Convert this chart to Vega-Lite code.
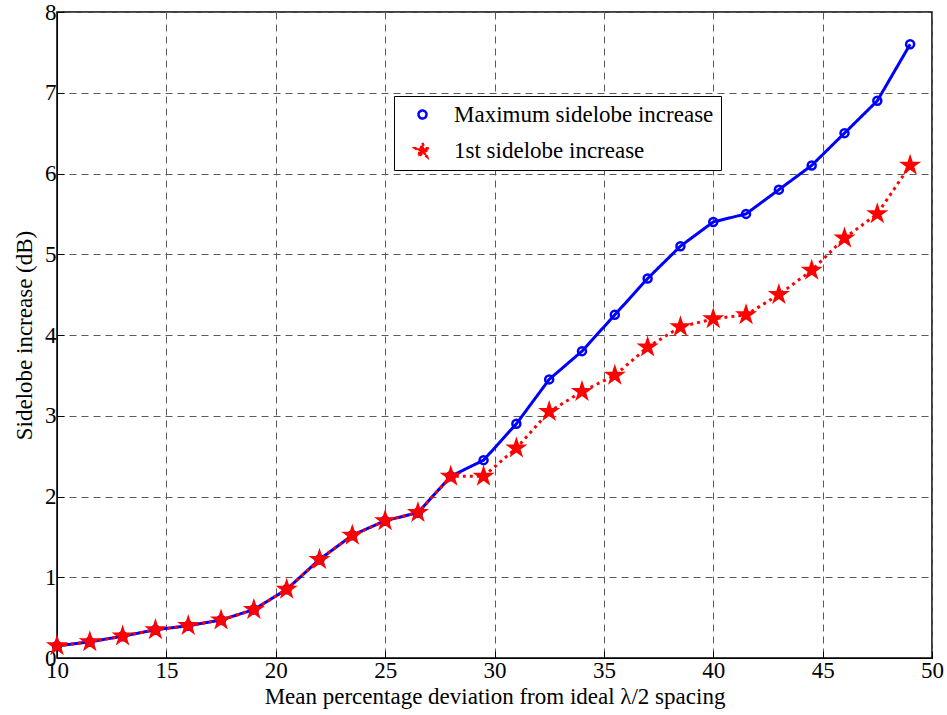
{
  "$schema": "https://vega.github.io/schema/vega-lite/v6.json",
  "width": 875,
  "height": 646,
  "autosize": "none",
  "padding": {"left": 57, "top": 12, "right": 15, "bottom": 57},
  "background": "white",
  "config": {
    "font": "Liberation Serif",
    "view": {"stroke": "black", "strokeWidth": 1.5},
    "axis": {"labelFont": "Liberation Serif", "labelFontSize": 23, "labelColor": "black", "labelFlush": false}
  },
  "datasets": {
    "d": [
      {"x": 10, "y": 0.15, "s": "Maximum sidelobe increase"},
      {"x": 11.5, "y": 0.2, "s": "Maximum sidelobe increase"},
      {"x": 13, "y": 0.27, "s": "Maximum sidelobe increase"},
      {"x": 14.5, "y": 0.35, "s": "Maximum sidelobe increase"},
      {"x": 16, "y": 0.4, "s": "Maximum sidelobe increase"},
      {"x": 17.5, "y": 0.47, "s": "Maximum sidelobe increase"},
      {"x": 19, "y": 0.6, "s": "Maximum sidelobe increase"},
      {"x": 20.5, "y": 0.85, "s": "Maximum sidelobe increase"},
      {"x": 22, "y": 1.22, "s": "Maximum sidelobe increase"},
      {"x": 23.5, "y": 1.52, "s": "Maximum sidelobe increase"},
      {"x": 25, "y": 1.7, "s": "Maximum sidelobe increase"},
      {"x": 26.5, "y": 1.8, "s": "Maximum sidelobe increase"},
      {"x": 28, "y": 2.25, "s": "Maximum sidelobe increase"},
      {"x": 29.5, "y": 2.45, "s": "Maximum sidelobe increase"},
      {"x": 31, "y": 2.9, "s": "Maximum sidelobe increase"},
      {"x": 32.5, "y": 3.45, "s": "Maximum sidelobe increase"},
      {"x": 34, "y": 3.8, "s": "Maximum sidelobe increase"},
      {"x": 35.5, "y": 4.25, "s": "Maximum sidelobe increase"},
      {"x": 37, "y": 4.7, "s": "Maximum sidelobe increase"},
      {"x": 38.5, "y": 5.1, "s": "Maximum sidelobe increase"},
      {"x": 40, "y": 5.4, "s": "Maximum sidelobe increase"},
      {"x": 41.5, "y": 5.5, "s": "Maximum sidelobe increase"},
      {"x": 43, "y": 5.8, "s": "Maximum sidelobe increase"},
      {"x": 44.5, "y": 6.1, "s": "Maximum sidelobe increase"},
      {"x": 46, "y": 6.5, "s": "Maximum sidelobe increase"},
      {"x": 47.5, "y": 6.9, "s": "Maximum sidelobe increase"},
      {"x": 49, "y": 7.6, "s": "Maximum sidelobe increase"},
      {"x": 10, "y": 0.15, "s": "1st sidelobe increase"},
      {"x": 11.5, "y": 0.2, "s": "1st sidelobe increase"},
      {"x": 13, "y": 0.27, "s": "1st sidelobe increase"},
      {"x": 14.5, "y": 0.35, "s": "1st sidelobe increase"},
      {"x": 16, "y": 0.4, "s": "1st sidelobe increase"},
      {"x": 17.5, "y": 0.47, "s": "1st sidelobe increase"},
      {"x": 19, "y": 0.6, "s": "1st sidelobe increase"},
      {"x": 20.5, "y": 0.85, "s": "1st sidelobe increase"},
      {"x": 22, "y": 1.22, "s": "1st sidelobe increase"},
      {"x": 23.5, "y": 1.52, "s": "1st sidelobe increase"},
      {"x": 25, "y": 1.7, "s": "1st sidelobe increase"},
      {"x": 26.5, "y": 1.8, "s": "1st sidelobe increase"},
      {"x": 28, "y": 2.25, "s": "1st sidelobe increase"},
      {"x": 29.5, "y": 2.25, "s": "1st sidelobe increase"},
      {"x": 31, "y": 2.6, "s": "1st sidelobe increase"},
      {"x": 32.5, "y": 3.05, "s": "1st sidelobe increase"},
      {"x": 34, "y": 3.3, "s": "1st sidelobe increase"},
      {"x": 35.5, "y": 3.5, "s": "1st sidelobe increase"},
      {"x": 37, "y": 3.85, "s": "1st sidelobe increase"},
      {"x": 38.5, "y": 4.1, "s": "1st sidelobe increase"},
      {"x": 40, "y": 4.2, "s": "1st sidelobe increase"},
      {"x": 41.5, "y": 4.25, "s": "1st sidelobe increase"},
      {"x": 43, "y": 4.5, "s": "1st sidelobe increase"},
      {"x": 44.5, "y": 4.8, "s": "1st sidelobe increase"},
      {"x": 46, "y": 5.2, "s": "1st sidelobe increase"},
      {"x": 47.5, "y": 5.5, "s": "1st sidelobe increase"},
      {"x": 49, "y": 6.1, "s": "1st sidelobe increase"}
    ]
  },
  "data": {"name": "d"},
  "encoding": {
    "x": {
      "field": "x", "type": "quantitative",
      "scale": {"domain": [10, 50], "nice": false, "zero": false},
      "axis": {
        "title": "Mean percentage deviation from ideal λ/2 spacing",
        "values": [10, 15, 20, 25, 30, 35, 40, 45, 50],
        "labelFont": "Liberation Serif", "labelFontSize": 23, "labelColor": "black", "labelFlush": false, "labelOverlap": false,
        "titleFont": "Liberation Serif", "titleFontSize": 23, "titleFontWeight": "normal", "titleColor": "black",
        "domainColor": "black", "tickColor": "black", "tickSize": -7,
        "labelPadding": 8, "titlePadding": 3,
        "grid": true, "gridColor": "#5a5a5a", "gridDash": [7, 5], "gridWidth": 1, "gridOpacity": 1
      }
    },
    "y": {
      "field": "y", "type": "quantitative",
      "scale": {"domain": [0, 8], "nice": false},
      "axis": {
        "title": "Sidelobe increase (dB)",
        "values": [0, 1, 2, 3, 4, 5, 6, 7, 8],
        "labelFont": "Liberation Serif", "labelFontSize": 23, "labelColor": "black", "labelFlush": false, "labelOverlap": false,
        "titleFont": "Liberation Serif", "titleFontSize": 23, "titleFontWeight": "normal", "titleColor": "black",
        "domainColor": "black", "tickColor": "black", "tickSize": -7,
        "labelPadding": 8, "titlePadding": 8,
        "grid": true, "gridColor": "#5a5a5a", "gridDash": [7, 5], "gridWidth": 1, "gridOpacity": 1
      }
    },
    "color": {
      "field": "s", "type": "nominal",
      "scale": {"domain": ["Maximum sidelobe increase", "1st sidelobe increase"], "range": ["#0000ff", "#ff0000"]},
      "legend": {
        "title": null, "orient": "none", "legendX": 337, "legendY": 84,
        "fillColor": "white", "strokeColor": "black", "padding": 7,
        "labelFont": "Liberation Serif", "labelFontSize": 23, "labelColor": "black",
        "symbolSize": 160, "symbolStrokeWidth": 2.5, "symbolOffset": 10, "rowPadding": 10, "labelOffset": 20, "labelLimit": 400
      }
    }
  },
  "layer": [
    {
      "mark": {"type": "line", "strokeWidth": 3},
      "encoding": {
        "strokeDash": {"field": "s", "type": "nominal", "scale": {"domain": ["Maximum sidelobe increase", "1st sidelobe increase"], "range": [[1, 0], [3, 4]]}, "legend": null},
        "order": {"field": "x"}
      }
    },
    {
      "mark": {"type": "point", "filled": false, "opacity": 1},
      "encoding": {
        "shape": {"field": "s", "type": "nominal", "scale": {"domain": ["Maximum sidelobe increase", "1st sidelobe increase"], "range": ["circle", "M0,-1L0.225,-0.309L0.951,-0.309L0.363,0.118L0.588,0.809L0,0.382L-0.588,0.809L-0.363,0.118L-0.951,-0.309L-0.225,-0.309Z"]}},
        "size": {"field": "s", "type": "nominal", "scale": {"domain": ["Maximum sidelobe increase", "1st sidelobe increase"], "range": [64, 230]}, "legend": null},
        "fill": {"field": "s", "type": "nominal", "scale": {"domain": ["Maximum sidelobe increase", "1st sidelobe increase"], "range": ["transparent", "#ff0000"]}, "legend": null},
        "strokeWidth": {"value": 2.5}
      }
    }
  ]
}
